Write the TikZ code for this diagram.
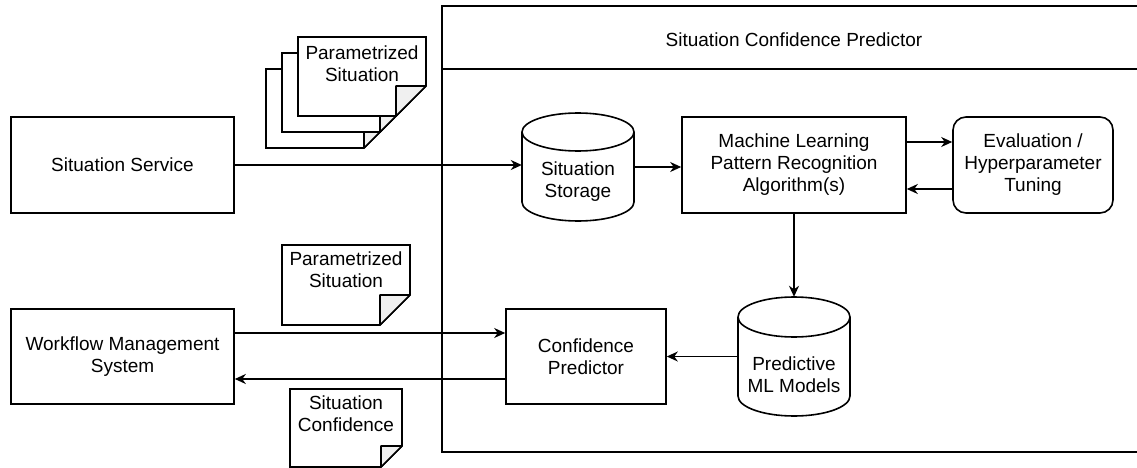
\documentclass[tikz,border=0pt]{standalone}
\usepackage{fontspec}
\setmainfont{Liberation Sans}
\usetikzlibrary{arrows.meta}
\definecolor{foldgray}{RGB}{240,240,240}

% folded-corner document: left, top, right, bottom, fold size (y measured downwards)
\newcommand\foldeddoc[5]{%
  \draw[line width=1.6pt, fill=white] (#1,-#2) -- (#3,-#2) -- (#3,{-(#4-#5)}) -- ({#3-#5},-#4) -- (#1,-#4) -- cycle;
  \draw[line width=1.6pt, fill=foldgray, line join=round] ({#3-#5},-#4) -- ({#3-#5},{-(#4-#5)}) -- (#3,{-(#4-#5)}) -- cycle;
}
% cylinder outline: left, right, top, bottom, x radius, y radius
\newcommand\dbcylinder[6]{%
  \draw[line width=1.6pt, fill=white] (#1,{-(#3+#6)}) -- (#1,{-(#4-#6)})
    arc[start angle=180, end angle=360, x radius=#5, y radius=#6]
    -- (#2,{-(#3+#6)})
    arc[start angle=0, end angle=180, x radius=#5, y radius=#6] -- cycle;
  \draw[line width=1.6pt] (#1,{-(#3+#6)})
    arc[start angle=180, end angle=360, x radius=#5, y radius=#6];
}

\begin{document}
\begin{tikzpicture}[x=1pt, y=1pt,
  every node/.style={font=\fontsize{19}{22}\selectfont, align=center, inner sep=0pt},
  box/.style={draw, line width=1.6pt, minimum width=#1},
  box/.default=160pt,
  hidden/.style={minimum width=112pt},
  arr/.style={line width=1.6pt, -{Stealth[length=11pt, width=10pt, inset=3.5pt]}}
]
\useasboundingbox (0,0) rectangle (1137,-468);
\clip (0,0) rectangle (1137,-468);

% container of the predictor
\draw[line width=1.6pt] (442,-6) rectangle (1150,-452);
\draw[line width=1.6pt] (442,-69) -- (1150,-69);
\node (title) at (794,-40) {Situation Confidence Predictor};

% external systems
\node[box=223pt, minimum height=96pt] (ss) at (122.5,-165) {Situation Service};
\node[box=223pt, minimum height=95pt] (wms) at (122.5,-356.5) {Workflow Management\\System};

% stack of parametrized situations
\foldeddoc{266}{69}{394}{148}{30}
\foldeddoc{282}{53}{410}{132}{30}
\foldeddoc{298}{37}{426}{116}{30}
\node (ps1) at (362,-63.5) {Parametrized\\Situation};

% single documents on the workflow side
\foldeddoc{282}{245}{410}{325}{30}
\node (ps2) at (346,-269.5) {Parametrized\\Situation};
\foldeddoc{290}{389}{402}{467}{21}
\node (sc) at (346,-413.5) {Situation\\Confidence};

% storage cylinders
\dbcylinder{522}{634}{113}{221}{56}{19}
\node[hidden, minimum height=108pt] (storage) at (578,-167) {};
\node (storagetext) at (578,-182) {Situation\\Storage};

\dbcylinder{738}{850}{297}{416}{56}{20}
\node[hidden, minimum height=119pt] (pred) at (794,-356.5) {};
\node (predtext) at (794,-375) {Predictive\\ML Models};

% processing boxes
\node[box=224pt, minimum height=96pt] (ml) at (794,-165) {Machine Learning\\Pattern Recognition\\Algorithm(s)};
\node[box=160pt, minimum height=96pt, rounded corners=13pt] (eval) at (1033,-165) {Evaluation /\\Hyperparameter\\Tuning};
\node[box=160pt, minimum height=95pt] (conf) at (586,-356.5) {Confidence\\Predictor};

% connectors
\draw[arr] (ss.east) -- (ss.east -| storage.west);
\draw[arr] (storage.east) -- (storage.east -| ml.west);
\draw[arr] ([yshift=23pt]ml.east) -- ([yshift=23pt]ml.east -| eval.west);
\draw[arr] ([yshift=-24pt]eval.west) -- ([yshift=-24pt]eval.west -| ml.east);
\draw[arr] (ml.south) -- (pred.north);
\draw[arr] (pred.west) -- (pred.west -| conf.east);
\draw[arr] ([yshift=23.5pt]wms.east) -- ([yshift=23.5pt]wms.east -| conf.west);
\draw[arr] ([yshift=-22.5pt]conf.west) -- ([yshift=-22.5pt]conf.west -| wms.east);
\end{tikzpicture}
\end{document}
